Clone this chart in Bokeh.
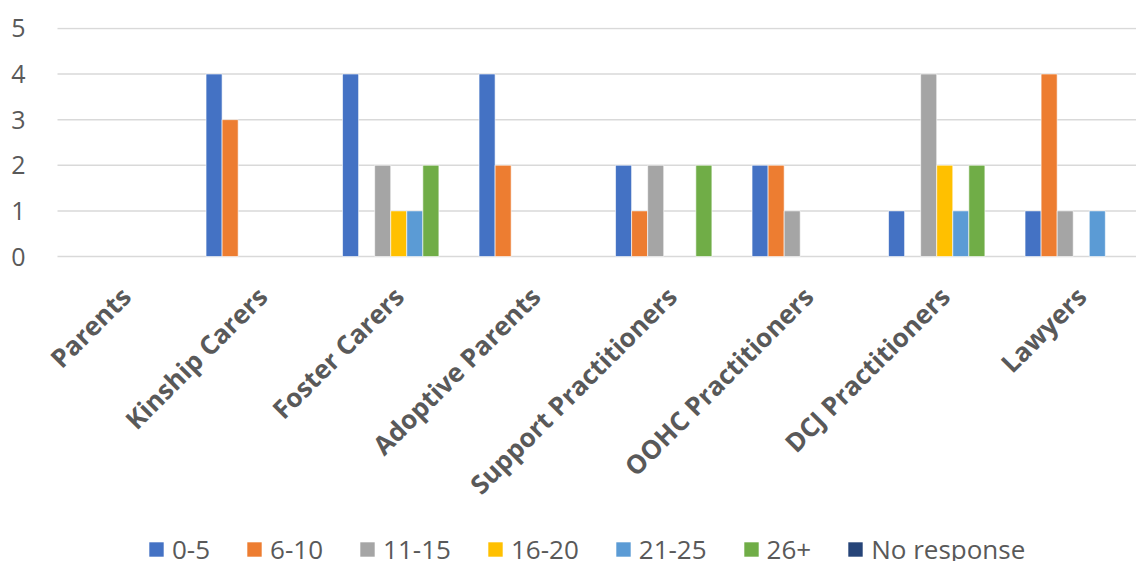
import math

from bokeh.plotting import figure
from bokeh.models import Range1d, FixedTicker, Legend, LegendItem, ColumnDataSource
from bokeh.core.properties import value
from bokeh.embed import file_html
from bokeh.resources import INLINE

# Respondent groups and years-of-experience bands
categories = ["Parents", "Kinship Carers", "Foster Carers", "Adoptive Parents",
              "Support Practitioners", "OOHC Practitioners", "DCJ Practitioners", "Lawyers"]
bands = ["0-5", "6-10", "11-15", "16-20", "21-25", "26+", "No response"]

# Counts per band, one value per respondent group
band_0_5 = [0, 4, 4, 4, 2, 2, 1, 1]
band_6_10 = [0, 3, 0, 2, 1, 2, 0, 4]
band_11_15 = [0, 0, 2, 0, 2, 1, 4, 1]
band_16_20 = [0, 0, 1, 0, 0, 0, 2, 0]
band_21_25 = [0, 0, 1, 0, 0, 0, 1, 1]
band_26_plus = [0, 0, 2, 0, 2, 0, 2, 0]
band_no_response = [0, 0, 0, 0, 0, 0, 0, 0]

y_ticks = [0, 1, 2, 3, 4, 5]

series_values = [band_0_5, band_6_10, band_11_15, band_16_20,
                 band_21_25, band_26_plus, band_no_response]
colors = ["#4472C4", "#ED7D31", "#A5A5A5", "#FFC000", "#5B9BD5", "#70AD47", "#264478"]

TEXT = "#595959"
n_series = len(bands)
slots = n_series + 1.5          # bar slots per group, including the gap
bar_w = 1.0 / slots

# The frame runs to the bottom of the canvas; the value scale is fixed at
# 229 px for 0..5.02, and the space below zero holds the category labels
# and the legend.  It also starts a little left of the first group so the
# first slanted label has room.
FRAME_H = 534
FRAME_W = 1096
PX_PER_UNIT = 229 / 5.02
PX_PER_GROUP = 136.5
y_top = 5.02
y_bottom = y_top - FRAME_H / PX_PER_UNIT
x_start = -17 / PX_PER_GROUP
x_end = x_start + FRAME_W / PX_PER_GROUP

p = figure(frame_width=FRAME_W, frame_height=FRAME_H,
           x_range=Range1d(x_start, x_end), y_range=Range1d(y_bottom, y_top),
           x_axis_location=None,
           output_backend="svg", toolbar_location=None,
           min_border_left=40, min_border_top=27, min_border_right=0,
           min_border_bottom=0)
p.outline_line_color = None
p.background_fill_color = "white"
p.border_fill_color = "white"

p.xgrid.visible = False
p.ygrid.visible = False

# horizontal gridlines across the plotting area only
p.segment(x0=[0] * len(y_ticks), x1=[x_end] * len(y_ticks), y0=y_ticks, y1=y_ticks,
          line_color="#D9D9D9", line_width=1.5)

p.yaxis.ticker = FixedTicker(ticks=y_ticks)
p.yaxis.axis_line_color = None
p.yaxis.major_tick_line_color = None
p.yaxis.minor_tick_line_color = None
p.yaxis.major_tick_out = 0
p.yaxis.major_tick_in = 0
p.yaxis.major_label_standoff = 15
p.yaxis.major_label_text_font = "Open Sans"
p.yaxis.major_label_text_font_size = "25px"
p.yaxis.major_label_text_color = TEXT

items = []
for j, (band, vals, col) in enumerate(zip(bands, series_values, colors)):
    xs = [i + (0.75 + j + 0.5) / slots for i in range(len(vals))]
    # zero counts leave no visible bar, so their outline is switched off
    edge_alpha = [0.6 if v > 0 else 0.0 for v in vals]
    src = ColumnDataSource(data=dict(x=xs, top=vals, edge_alpha=edge_alpha))
    r = p.vbar(x="x", top="top", bottom=0, width=bar_w, source=src,
               fill_color=col, line_color="white", line_alpha="edge_alpha",
               line_width=1)
    items.append(LegendItem(label=band, renderers=[r], index=0))

# Category labels, slanted, ending just under each group's centre
centers = [i + 0.5 for i in range(len(categories))]
label_src = ColumnDataSource(data=dict(x=centers, y=[0] * len(centers), text=categories))
p.text(x="x", y="y", text="text", source=label_src,
       angle=math.pi / 4, text_align="right", text_baseline="middle",
       x_offset=0, y_offset=35,
       text_font=value("Open Sans"), text_font_style="bold",
       text_font_size="26px", text_color=TEXT)

legend = Legend(items=items, orientation="horizontal", location=(107, -6),
                glyph_width=18, glyph_height=18, label_standoff=7, spacing=35,
                label_height=18,
                label_text_font="Open Sans", label_text_font_size="26px",
                label_text_color=TEXT,
                border_line_color=None, background_fill_alpha=0,
                padding=0, margin=0)
p.add_layout(legend, "center")

with open("out.html", "w") as f:
    f.write(file_html(p, INLINE))
